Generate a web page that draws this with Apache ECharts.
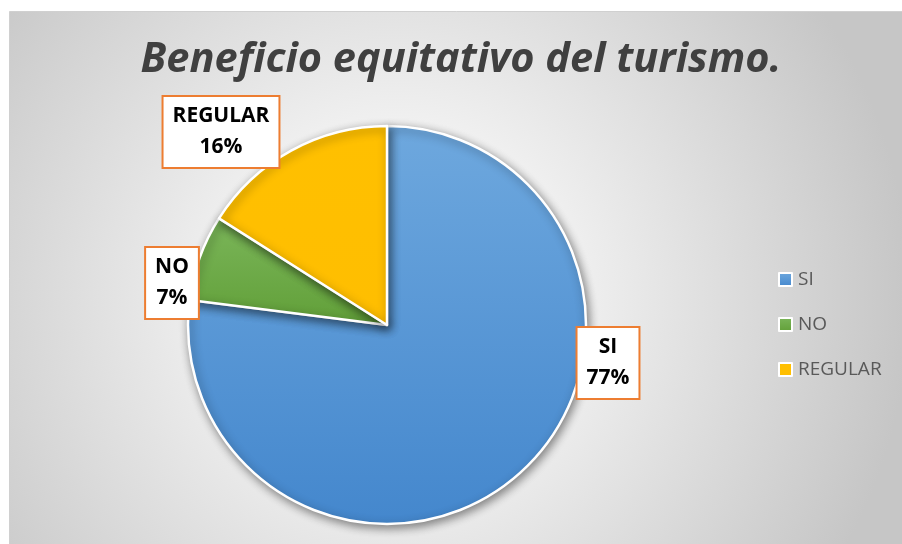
<!DOCTYPE html>
<html>
<head>
<meta charset="utf-8">
<script src="https://cdn.jsdelivr.net/npm/echarts@6/dist/echarts.min.js"></script>
<style>
    html, body { margin: 0; padding: 0; background: #fff; }
    #chart { width: 902px; height: 544px; }
</style>
</head>
<body>
<div id="chart"></div>
<script>
    var categories = ['SI', 'NO', 'REGULAR'];
    var values = [77, 7, 16];
    var colorsTop = ['#6ea8de', '#7bb65a', '#ffc000'];
    var colorsBottom = ['#4487cd', '#619f38', '#ffbe00'];

    var chart = echarts.init(document.getElementById('chart'));

    // centros de las etiquetas (posición tipo Excel "ajuste perfecto")
    var labelCenters = [[608, 363], [172, 283], [221, 132]];

    var pieData = categories.map(function(name, i) {
        return {
            name: name,
            value: values[i],
            itemStyle: {
                color: new echarts.graphic.LinearGradient(0, 0, 0, 1, [
                    { offset: 0, color: colorsTop[i] },
                    { offset: 1, color: colorsBottom[i] }
                ])
            }
        };
    });

    var option = {
        animation: false,
        graphic: [{
            type: 'rect',
            z: -10,
            silent: true,
            shape: { x: 9.5, y: 11.5, width: 900, height: 540 },
            style: {
                fill: new echarts.graphic.RadialGradient(0.43, 0.53, 0.95, [
                    { offset: 0, color: '#ffffff' },
                    { offset: 0.25, color: '#f6f6f6' },
                    { offset: 1, color: '#c6c6c6' }
                ]),
                stroke: '#d0d0d0',
                lineWidth: 1
            }
        }],
        title: {
            text: 'Beneficio equitativo del turismo.',
            left: 461,
            textAlign: 'center',
            top: 40,
            padding: 0,
            textStyle: {
                fontFamily: 'Open Sans',
                fontStyle: 'italic',
                fontWeight: 'bold',
                fontSize: 41.5,
                color: '#404040'
            }
        },
        legend: {
            orient: 'vertical',
            left: 778,
            top: 270,
            padding: 0,
            itemWidth: 13,
            itemHeight: 13,
            itemGap: 26,
            icon: 'rect',
            data: categories,
            textStyle: {
                fontFamily: 'Open Sans',
                fontSize: 19,
                lineHeight: 18,
                color: '#595959',
                padding: [0, 0, 0, 1]
            }
        },
        series: [{
            type: 'pie',
            center: [387, 325],
            radius: 199,
            startAngle: 90,
            clockwise: true,
            data: pieData,
            itemStyle: {
                borderColor: '#ffffff',
                borderWidth: 2.5,
                shadowBlur: 10,
                shadowOffsetX: 2,
                shadowOffsetY: 3,
                shadowColor: 'rgba(0,0,0,0.45)'
            },
            label: {
                show: true,
                formatter: '{b}\n{d}%',
                fontFamily: 'Open Sans',
                fontWeight: 'bold',
                fontSize: 21,
                lineHeight: 31,
                color: '#000',
                align: 'center',
                backgroundColor: '#fff',
                borderColor: '#ED7D31',
                borderWidth: 2,
                padding: [5, 9, 3, 9]
            },
            labelLine: { show: false },
            labelLayout: function(params) {
                var c = labelCenters[params.dataIndex];
                return {
                    x: c[0],
                    y: c[1],
                    align: 'center',
                    verticalAlign: 'middle'
                };
            },
            emphasis: { disabled: true }
        }]
    };

    chart.setOption(option);
</script>
</body>
</html>
